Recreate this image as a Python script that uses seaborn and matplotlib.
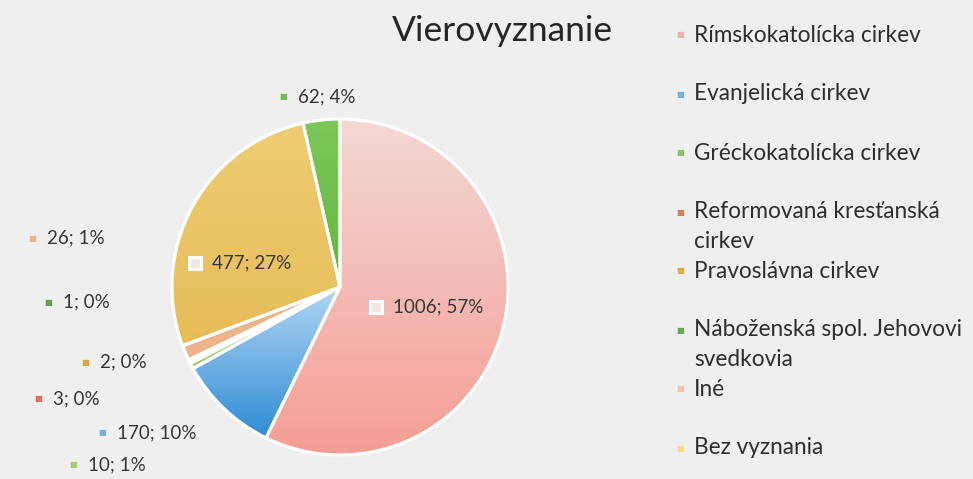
import numpy as np
import pandas as pd
import matplotlib
matplotlib.use("Agg")
import matplotlib.pyplot as plt
import seaborn as sns
from matplotlib.colors import LinearSegmentedColormap
from matplotlib.patches import Rectangle, Wedge

# ---- data ----
categories = ["Rímskokatolícka cirkev", "Evanjelická cirkev", "Gréckokatolícka cirkev",
              "Reformovaná kresťanská\ncirkev", "Pravoslávna cirkev",
              "Náboženská spol. Jehovovi\nsvedkovia", "Iné", "Bez vyznania", "Nezistené"]
values = [1006, 170, 10, 3, 2, 1, 26, 477, 62]
legend_count = 8   # only the first eight entries are visible in the legend
title = "Vierovyznanie"

# ---- styling ----
slice_colors = ["#F4ADA5", "#72B0E4", "#A5CF6E", "#E0705E", "#D9A843",
                "#5E9F4E", "#EDB48C", "#EBC463", "#6DBE4B"]
gradients = {0: ("#F3D8D4", "#F59E95"), 1: ("#B4D6F2", "#2E8CD6"),
             7: ("#EFCD74", "#E6BC57"), 8: ("#7CC85A", "#64B644")}
legend_colors = ["#E8B4AC", "#78AEDA", "#8DC165", "#E07A62", "#D8AE48",
                 "#6AA558", "#F2C4A8", "#F9D98A"]
bg = "#EFEFEF"
text_col = "#2E2E2E"

sns.set_theme(style="white")
plt.rcParams['font.family'] = ['Lato', 'DejaVu Sans']

W, H = 973, 479
fig = plt.figure(figsize=(W / 100, H / 100), dpi=100, facecolor=bg)

cx, cy, R = 340, 287, 168  # pie centre / radius in pixels
ax = fig.add_axes([(cx - R) / W, (H - cy - R) / H, 2 * R / W, 2 * R / H])
ax.set_facecolor("none")

wedges, _ = ax.pie(values, colors=slice_colors, startangle=90, counterclock=False,
                   wedgeprops=dict(edgecolor="white", linewidth=2.2))

# vertical gradient fills for the larger slices
for i, (c_top, c_bot) in gradients.items():
    w = wedges[i]
    ext = w.get_path().get_extents()
    cmap = LinearSegmentedColormap.from_list(f"g{i}", [c_bot, c_top])
    grad = np.linspace(0, 1, 256).reshape(-1, 1)
    im = ax.imshow(grad, extent=[ext.x0, ext.x1, ext.y0, ext.y1], origin="lower",
                   cmap=cmap, aspect="auto", zorder=w.get_zorder() + 0.1,
                   interpolation="bilinear")
    im.set_clip_path(w)
for w in wedges:
    ax.add_patch(Wedge(w.center, w.r, w.theta1, w.theta2,
                       fc="none", ec="white", lw=2.2, zorder=5))
ax.set_xlim(-1, 1)
ax.set_ylim(-1, 1)
ax.set_aspect("equal")
ax.axis("off")

# ---- data labels "value; percent" ----
total = sum(values)
labels = [f"{v}; {round(v / total * 100)}%" for v in values]
# label key position (pixels) for each slice; inside labels flagged
label_pos = {0: (376, 307, True), 1: (102, 433, False), 2: (73, 465, False),
             3: (38, 399, False), 4: (85, 362, False), 5: (48, 302, False),
             6: (32, 238, False), 7: (195, 263, True), 8: (283, 97, False)}
for i, (px, py, inside) in label_pos.items():
    fx, fy = px / W, 1 - py / H
    if inside:
        s = 12
        fig.add_artist(Rectangle(((px - s / 2) / W, 1 - (py + s / 2) / H), s / W, s / H,
                                 transform=fig.transFigure, fc="#F6E6E0", ec="white",
                                 lw=2.2, zorder=10))
        fig.text(fx + 17 / W, fy, labels[i], fontsize=13.5, color="#363636",
                 ha="left", va="center")
    else:
        fig.text(fx, fy, "■", fontsize=6, color=slice_colors[i], ha="center",
                 va="center", family="DejaVu Sans")
        fig.text(fx + 15 / W, fy, labels[i], fontsize=13.5, color="#363636",
                 ha="left", va="center")

# ---- title ----
fig.text(502 / W, 1 - 31 / H, title, fontsize=25.5, color="#262626",
         ha="center", va="center")

# ---- legend ----
lx, ly0, dy, line_h = 680, 35, 59, 30
for i in range(legend_count):
    y = ly0 + i * dy
    fig.text(lx / W, 1 - y / H, "■", fontsize=6, color=legend_colors[i],
             ha="center", va="center", family="DejaVu Sans")
    for k, line in enumerate(categories[i].split("\n")):
        fig.text((lx + 14) / W, 1 - (y + k * line_h + 6.5) / H, line, fontsize=16.3,
                 color=text_col, ha="left", va="baseline")

fig.savefig("out.png", dpi=100, facecolor=bg)
